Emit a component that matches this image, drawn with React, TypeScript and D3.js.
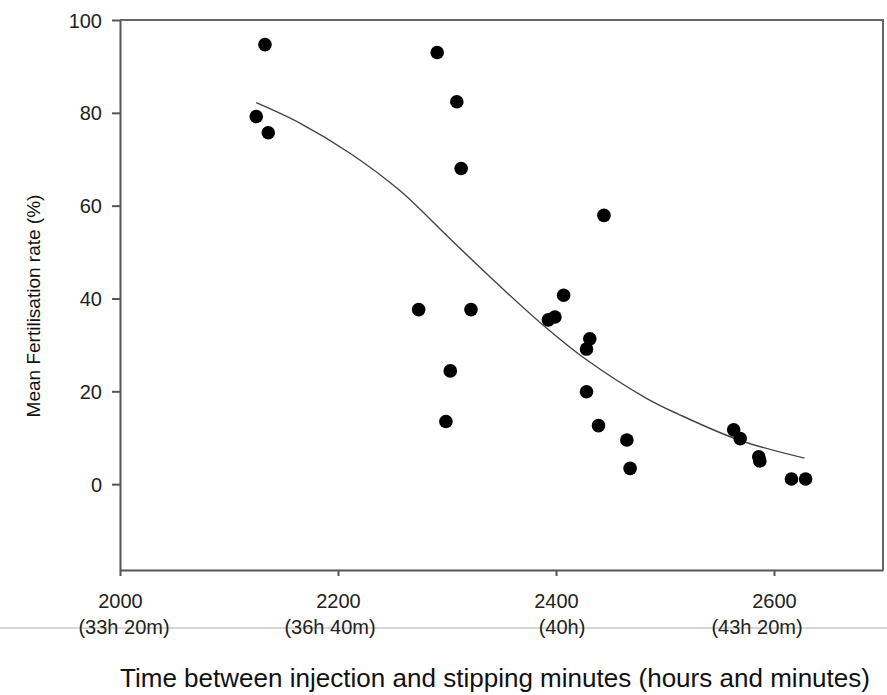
import React, { useEffect, useRef } from 'react';
import * as d3 from 'd3';

// observed points: minutes between injection and stripping, mean fertilisation rate (%)
const minutes = [
  2125, 2133, 2136, 2291, 2309, 2313, 2274, 2322, 2303, 2299,
  2407, 2393, 2399, 2431, 2428, 2428, 2439, 2465, 2468, 2444,
  2563, 2569, 2586, 2587, 2616, 2629,
];
const fertRate = [
  79.2, 94.7, 75.7, 93.0, 82.4, 68.0, 37.6, 37.6, 24.4, 13.5,
  40.7, 35.4, 36.0, 31.3, 29.1, 19.9, 12.6, 9.5, 3.4, 57.9,
  11.7, 9.8, 5.9, 5.0, 1.1, 1.1,
];

// fitted curve
const fitMinutes = [2125, 2165, 2211, 2257, 2303, 2347, 2388, 2428, 2483, 2513, 2568, 2628];
const fitRate = [82.2, 77.8, 71.3, 63.2, 52.8, 43.0, 34.3, 26.8, 18.5, 15.0, 9.5, 5.6];

const xTicks = [2000, 2200, 2400, 2600];
const xSubLabels = ['(33h 20m)', '(36h 40m)', '(40h)', '(43h 20m)'];
const yTicks = [0, 20, 40, 60, 80, 100];

const W = 887;
const H = 695;
const margin = { left: 120, top: 20, right: 4, bottom: 125 };
const font = 'Arial, "Liberation Sans", sans-serif';

const App = () => {
  const svgRef = useRef<SVGSVGElement>(null);

  useEffect(() => {
    const svg = d3.select(svgRef.current);
    svg.selectAll('*').remove();

    const x = d3.scaleLinear().domain([2000, 2700]).range([margin.left, W - margin.right]);
    const y = d3.scaleLinear().domain([-18.5, 100]).range([H - margin.bottom, margin.top]);
    const axisColor = '#555';
    const [x0, x1] = x.range();
    const [y0, y1] = y.range();

    // frame top and right
    svg.append('path')
      .attr('d', `M${x0},${y1} H${x1} V${y0}`)
      .attr('fill', 'none')
      .attr('stroke', '#666')
      .attr('stroke-width', 2);

    const gx = svg.append('g')
      .attr('transform', `translate(0,${y0})`)
      .call(d3.axisBottom(x).tickValues(xTicks).tickSize(6).tickSizeOuter(0).tickFormat(d3.format('d')));
    gx.select('.domain').attr('stroke', axisColor).attr('stroke-width', 2);
    gx.selectAll('.tick line').attr('stroke', axisColor).attr('stroke-width', 2);
    gx.selectAll('.tick text')
      .attr('y', 38).attr('dy', null)
      .attr('fill', '#222')
      .style('font-family', font).style('font-size', '20px');

    const gy = svg.append('g')
      .attr('transform', `translate(${x0},0)`)
      .call(d3.axisLeft(y).tickValues(yTicks).tickSize(8).tickSizeOuter(0).tickPadding(10));
    gy.select('.domain').attr('stroke', axisColor).attr('stroke-width', 2);
    gy.selectAll('.tick line').attr('stroke', axisColor).attr('stroke-width', 2);
    gy.selectAll('.tick text')
      .attr('dy', '0.35em')
      .attr('fill', '#222')
      .style('font-family', font).style('font-size', '20px');

    // gray rule across the page, under the sub labels
    svg.append('line')
      .attr('x1', 0).attr('x2', W)
      .attr('y1', 628).attr('y2', 628)
      .attr('stroke', '#b0b0b0').attr('stroke-width', 1);

    const nudge = [4, -8, 6, -17];
    svg.append('g')
      .selectAll('text')
      .data(xSubLabels)
      .join('text')
      .attr('x', (d, i) => x(xTicks[i]) + nudge[i])
      .attr('y', 634)
      .attr('text-anchor', 'middle')
      .attr('fill', '#222')
      .style('font-family', font)
      .style('font-size', '20px')
      .text((d) => d);

    // fitted line
    const line = d3.line<number>()
      .x((d, i) => x(fitMinutes[i]))
      .y((d) => y(d))
      .curve(d3.curveCatmullRom.alpha(0.5));
    svg.append('path')
      .datum(fitRate)
      .attr('d', line)
      .attr('fill', 'none')
      .attr('stroke', '#444')
      .attr('stroke-width', 1.4);

    svg.append('g')
      .selectAll('circle')
      .data(fertRate)
      .join('circle')
      .attr('cx', (d, i) => x(minutes[i]))
      .attr('cy', (d) => y(d))
      .attr('r', 6.8)
      .attr('fill', '#000');

    svg.append('text')
      .attr('transform', `translate(40,306) rotate(-90)`)
      .attr('text-anchor', 'middle')
      .attr('fill', '#111')
      .style('font-family', font)
      .style('font-size', '19px')
      .text('Mean Fertilisation rate (%)');

    svg.append('text')
      .attr('x', 120)
      .attr('y', 687)
      .attr('textLength', 750)
      .attr('lengthAdjust', 'spacingAndGlyphs')
      .attr('fill', '#111')
      .style('font-family', font)
      .style('font-size', '26px')
      .text('Time between injection and stipping minutes (hours and minutes)');
  }, []);

  return (
    <svg
      ref={svgRef}
      width={W}
      height={H}
      style={{ position: 'absolute', left: 0, top: 0, background: '#fff' }}
    />
  );
};

export default App;
